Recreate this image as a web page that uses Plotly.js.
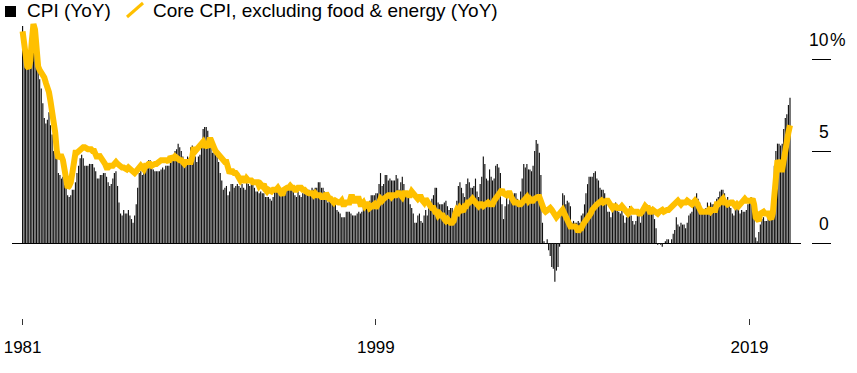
<!DOCTYPE html>
<html><head><meta charset="utf-8">
<script src="https://cdn.plot.ly/plotly-3.0.1.min.js"></script>
<style>html,body{margin:0;padding:0;background:#fff;}#chart{width:857px;height:373px;}</style>
</head><body><div id="chart"></div>
<script>
const startYear = 1981;
const seriesNames = ['CPI (YoY)', 'Core CPI, excluding food & energy (YoY)'];

const cpiYoY = [
 11.8,11.4,10.5,10.0,9.8,9.6,10.8,10.8,11.0,10.1,9.6,8.9,
 8.4,7.6,6.8,6.5,6.7,7.1,6.4,5.9,5.0,5.1,4.6,3.8,
 3.7,3.5,3.6,3.9,3.5,2.6,2.5,2.6,2.9,2.9,3.3,3.8,
 4.2,4.6,4.8,4.6,4.2,4.2,4.2,4.3,4.3,4.3,4.1,3.9,
 3.5,3.5,3.7,3.7,3.8,3.8,3.6,3.3,3.1,3.2,3.5,3.8,
 3.9,3.1,2.2,1.6,1.5,1.8,1.6,1.6,1.8,1.5,1.3,1.1,
 1.5,2.1,3.0,3.8,3.9,3.7,3.9,4.3,4.4,4.5,4.5,4.4,
 4.0,3.9,3.9,3.9,3.9,4.0,4.1,4.0,4.2,4.2,4.2,4.4,
 4.7,4.8,5.0,5.1,5.4,5.2,5.0,4.7,4.3,4.5,4.7,4.6,
 5.2,5.3,5.2,4.7,4.4,4.7,4.8,5.6,6.2,6.3,6.3,6.1,
 5.7,5.3,4.9,4.9,5.0,4.7,4.4,3.8,3.4,2.9,3.0,3.1,
 2.6,2.8,3.2,3.2,3.0,3.1,3.2,3.1,3.0,3.2,3.0,2.9,
 3.3,3.2,3.1,3.2,3.2,3.0,2.8,2.8,2.7,2.8,2.7,2.7,
 2.5,2.5,2.5,2.4,2.3,2.5,2.8,2.9,3.0,2.6,2.7,2.7,
 2.8,2.9,2.9,3.1,3.2,3.0,2.8,2.6,2.5,2.8,2.6,2.5,
 2.7,2.7,2.8,2.9,2.9,2.8,3.0,2.9,3.0,3.0,3.3,3.3,
 3.0,3.0,2.8,2.5,2.2,2.3,2.2,2.2,2.2,2.1,1.8,1.7,
 1.6,1.4,1.4,1.4,1.7,1.7,1.7,1.6,1.5,1.5,1.5,1.6,
 1.7,1.6,1.7,2.3,2.1,2.0,2.1,2.3,2.6,2.6,2.6,2.7,
 2.7,3.2,3.8,3.1,3.2,3.7,3.7,3.4,3.5,3.4,3.4,3.4,
 3.7,3.5,2.9,3.3,3.6,3.2,2.7,2.7,2.6,2.1,1.9,1.6,
 1.1,1.1,1.5,1.6,1.2,1.1,1.5,1.8,1.5,2.0,2.2,2.4,
 2.6,3.0,3.0,2.2,2.1,2.1,2.1,2.2,2.3,2.0,1.8,1.9,
 1.9,1.7,1.7,2.3,3.1,3.3,3.0,2.7,2.5,3.2,3.5,3.3,
 3.0,3.0,3.1,3.5,2.8,2.5,3.2,3.6,4.7,4.3,3.5,3.4,
 4.0,3.6,3.4,3.5,4.2,4.3,4.1,3.8,2.1,1.3,2.0,2.5,
 2.1,2.4,2.8,2.6,2.7,2.7,2.4,2.0,2.8,3.5,4.3,4.1,
 4.3,4.0,4.0,3.9,4.2,5.0,5.6,5.4,4.9,3.7,1.1,0.1,
 0.0,0.2,-0.4,-0.7,-1.3,-1.4,-2.1,-1.5,-1.3,-0.2,1.8,2.7,
 2.6,2.1,2.3,2.2,2.0,1.1,1.2,1.1,1.1,1.2,1.1,1.5,
 1.6,2.1,2.7,3.2,3.6,3.6,3.6,3.8,3.9,3.5,3.4,3.0,
 2.9,2.9,2.7,2.3,1.7,1.7,1.4,1.7,2.0,2.2,1.8,1.7,
 1.6,2.0,1.5,1.1,1.4,1.8,2.0,1.5,1.2,1.0,1.2,1.5,
 1.6,1.1,1.5,2.0,2.1,2.1,2.0,1.7,1.7,1.7,1.3,0.8,
 -0.1,0.0,-0.1,-0.2,0.0,0.1,0.2,0.2,0.0,0.2,0.5,0.7,
 1.4,1.0,0.9,1.1,1.0,1.0,0.8,1.1,1.5,1.6,1.7,2.1,
 2.5,2.7,2.4,2.2,1.9,1.6,1.7,1.9,2.2,2.0,2.2,2.1,
 2.1,2.2,2.4,2.5,2.8,2.9,2.9,2.7,2.3,2.5,2.2,1.9,
 1.6,1.5,1.9,2.0,1.8,1.6,1.8,1.7,1.7,1.8,2.1,2.3,
 2.5,2.3,1.5,0.3,0.1,0.6,1.0,1.3,1.4,1.2,1.2,1.4,
 1.4,1.7,2.6,4.2,5.0,5.4,5.4,5.3,5.4,6.2,6.8,7.0,
 7.5,7.9
];

const coreYoY = [
 11.5,10.8,10.0,9.6,9.5,9.9,11.0,11.9,11.6,10.5,9.6,9.4,
 9.3,9.1,9.0,8.7,8.5,8.2,7.7,7.2,6.6,6.0,5.0,4.6,
 4.7,4.7,4.5,3.9,3.3,3.0,3.1,3.3,3.8,4.6,4.9,4.9,
 5.0,5.0,5.1,5.2,5.2,5.1,5.1,5.1,5.1,5.0,5.0,4.8,
 4.6,4.8,4.7,4.5,4.4,4.3,4.1,4.1,4.2,4.2,4.2,4.3,
 4.4,4.3,4.2,4.1,4.1,4.1,4.0,4.0,4.1,4.0,3.9,3.8,
 3.8,3.9,4.0,4.1,4.2,4.1,4.0,4.2,4.2,4.3,4.3,4.2,
 4.3,4.3,4.3,4.4,4.4,4.5,4.5,4.5,4.5,4.5,4.4,4.7,
 4.6,4.6,4.7,4.6,4.5,4.5,4.5,4.4,4.3,4.4,4.4,4.4,
 4.4,4.7,5.2,5.0,5.1,5.3,5.4,5.5,5.5,5.3,5.3,5.2,
 5.6,5.6,5.3,5.2,5.0,4.9,4.7,4.6,4.6,4.5,4.4,4.4,
 3.9,3.8,3.9,3.9,3.8,3.8,3.7,3.5,3.4,3.5,3.5,3.3,
 3.5,3.4,3.4,3.4,3.3,3.3,3.3,3.3,3.1,3.2,3.1,3.2,
 2.9,2.8,2.9,2.8,2.8,2.9,2.9,2.9,3.0,2.9,2.8,2.6,
 2.9,3.0,3.0,3.0,3.1,3.0,3.0,2.9,2.9,3.0,3.0,3.0,
 2.9,2.9,2.8,2.7,2.7,2.7,2.7,2.6,2.7,2.6,2.6,2.6,
 2.5,2.5,2.5,2.7,2.5,2.4,2.4,2.3,2.2,2.3,2.2,2.2,
 2.2,2.3,2.1,2.1,2.2,2.2,2.2,2.5,2.5,2.3,2.3,2.4,
 2.4,2.1,2.1,2.2,2.0,2.1,2.1,1.9,2.0,2.1,2.1,1.9,
 2.0,2.2,2.4,2.3,2.4,2.5,2.5,2.6,2.6,2.5,2.6,2.6,
 2.6,2.7,2.7,2.6,2.5,2.7,2.7,2.7,2.6,2.6,2.8,2.7,
 2.6,2.6,2.4,2.5,2.5,2.3,2.2,2.4,2.2,2.2,2.0,1.9,
 1.9,1.7,1.7,1.5,1.6,1.5,1.5,1.3,1.2,1.3,1.1,1.1,
 1.1,1.2,1.6,1.8,1.7,1.9,1.8,1.7,2.0,2.0,2.2,2.2,
 2.3,2.4,2.3,2.2,2.2,2.0,2.1,2.1,2.0,2.1,2.1,2.2,
 2.1,2.1,2.1,2.3,2.4,2.6,2.7,2.8,2.9,2.7,2.6,2.6,
 2.7,2.7,2.5,2.3,2.2,2.2,2.2,2.1,2.1,2.2,2.3,2.4,
 2.5,2.3,2.4,2.3,2.3,2.4,2.5,2.5,2.5,2.2,2.0,1.8,
 1.7,1.8,1.8,1.9,1.8,1.7,1.5,1.4,1.5,1.7,1.7,1.8,
 1.6,1.3,1.1,0.9,0.9,0.9,0.9,0.9,0.8,0.6,0.8,0.8,
 1.0,1.1,1.2,1.3,1.5,1.6,1.8,2.0,2.0,2.1,2.2,2.2,
 2.3,2.2,2.3,2.3,2.3,2.2,2.1,1.9,2.0,2.0,1.9,1.9,
 1.9,2.0,1.9,1.7,1.7,1.6,1.7,1.8,1.7,1.7,1.7,1.7,
 1.6,1.6,1.7,1.8,2.0,1.9,1.9,1.7,1.7,1.8,1.7,1.6,
 1.6,1.7,1.8,1.8,1.7,1.8,1.8,1.8,1.9,1.9,2.0,2.1,
 2.2,2.3,2.2,2.1,2.2,2.2,2.2,2.3,2.2,2.1,2.1,2.2,
 2.3,2.2,2.0,1.9,1.7,1.7,1.7,1.7,1.7,1.8,1.7,1.8,
 1.8,1.8,2.1,2.1,2.2,2.3,2.4,2.2,2.2,2.1,2.2,2.2,
 2.2,2.1,2.0,2.1,2.0,2.1,2.2,2.4,2.4,2.3,2.3,2.3,
 2.3,2.4,2.1,1.4,1.2,1.2,1.6,1.7,1.7,1.6,1.6,1.6,
 1.4,1.3,1.6,3.0,3.8,4.5,4.3,4.0,4.0,4.6,4.9,5.5,
 6.0,6.4
];

const xTickDates = ['1981-01-01', '1999-12-01', '2019-12-01'];
const xTickLabels = ['1981', '1999', '2019'];
const yTickValues = [0, 5, 10];
const yTickLabels = ['0', '5', '10'];
const ySuffix = '%';

const months = cpiYoY.map((_, i) => {
  const y = startYear + Math.floor(i / 12);
  const m = (i % 12) + 1;
  return y + '-' + String(m).padStart(2, '0') + '-01';
});

const W = 857, H = 373, TOP = 20, BOTTOM = 318;
const PX = x => x / W;
const PY = y => (BOTTOM - y) / (BOTTOM - TOP);
const FONT = 'Liberation Sans, Arial, Helvetica, sans-serif';
const YELLOW = '#FFC000';

const traces = [
  {
    type: 'bar', name: seriesNames[0], x: months, y: cpiYoY,
    marker: { color: '#111111', line: { width: 0 } },
    hoverinfo: 'skip'
  },
  {
    type: 'scatter', mode: 'lines', name: seriesNames[1], x: months, y: coreYoY,
    line: { color: YELLOW, width: 6, shape: 'linear' },
    hoverinfo: 'skip'
  }
];

const annotations = [];
yTickValues.forEach((v, i) => {
  annotations.push({
    xref: 'paper', yref: 'y', x: PX(831), y: v, xanchor: 'right', yanchor: 'bottom',
    yshift: 7, showarrow: false, text: yTickLabels[i],
    font: { family: FONT, size: 17.5, color: '#000' }
  });
  if (i === yTickValues.length - 1) {
    annotations.push({
      xref: 'paper', yref: 'y', x: PX(827.5), y: v, xanchor: 'left', yanchor: 'bottom',
      yshift: 7, showarrow: false, text: ySuffix,
      font: { family: FONT, size: 17.5, color: '#000' }
    });
  }
});
// legend texts
annotations.push({
  xref: 'paper', yref: 'paper', x: PX(25), y: PY(10.5), xanchor: 'left', yanchor: 'middle',
  showarrow: false, text: seriesNames[0], font: { family: FONT, size: 19, color: '#000' }
});
annotations.push({
  xref: 'paper', yref: 'paper', x: PX(151), y: PY(10.5), xanchor: 'left', yanchor: 'middle',
  showarrow: false, text: seriesNames[1], font: { family: FONT, size: 19, color: '#000' }
});

const shapes = [
  { type: 'rect', xref: 'paper', yref: 'paper', x0: PX(5), x1: PX(16), y0: PY(17), y1: PY(6),
    fillcolor: '#000', line: { width: 0 } },
  { type: 'line', xref: 'paper', yref: 'paper', x0: PX(127), x1: PX(143), y0: PY(17), y1: PY(3),
    line: { color: YELLOW, width: 3 } }
];

const layout = {
  width: W, height: H,
  margin: { l: 0, r: 0, t: TOP, b: H - BOTTOM, pad: 0 },
  paper_bgcolor: '#fff', plot_bgcolor: '#fff',
  showlegend: false,
  bargap: 0.2,
  hovermode: false,
  font: { family: FONT, color: '#000', size: 17 },
  xaxis: {
    type: 'date', domain: [PX(12), PX(801)],
    range: ['1980-06-08', '2022-09-04'],
    tickmode: 'array', tickvals: xTickDates, ticktext: xTickLabels,
    ticks: 'outside', ticklen: 6, tickwidth: 1, tickcolor: '#333',
    ticklabelstandoff: 8,
    tickfont: { family: FONT, size: 17, color: '#000' },
    showgrid: false, zeroline: false, showline: false, fixedrange: true
  },
  yaxis: {
    range: [-4.076, 12.12], anchor: 'free', position: PX(811), side: 'right',
    tickmode: 'array', tickvals: yTickValues,
    ticks: 'outside', ticklen: 19, tickwidth: 1, tickcolor: '#000',
    showticklabels: false, showgrid: false, showline: false,
    zeroline: true, zerolinecolor: '#000', zerolinewidth: 1, fixedrange: true
  },
  annotations: annotations,
  shapes: shapes
};

Plotly.newPlot('chart', traces, layout, { displayModeBar: false, staticPlot: true });
</script>
</body></html>
